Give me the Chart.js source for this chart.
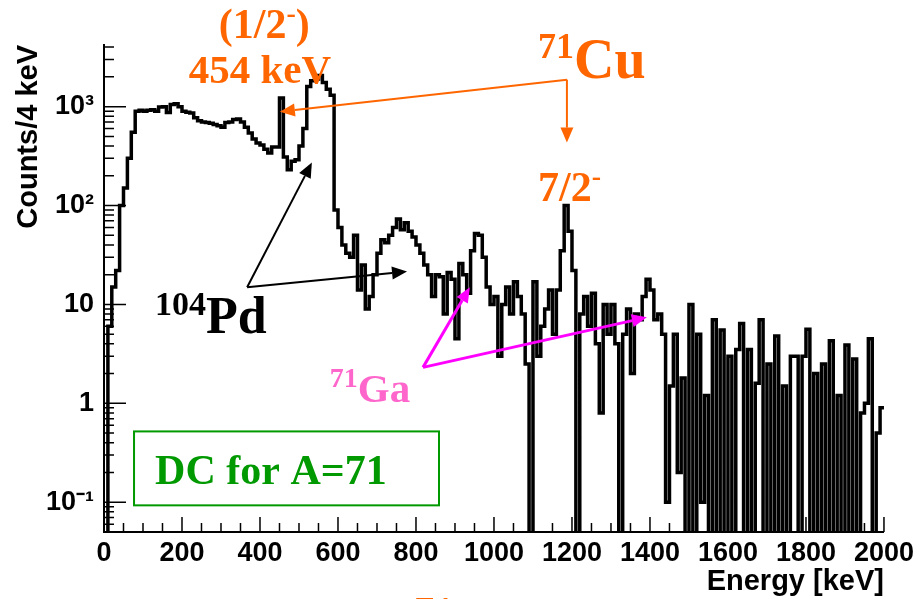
<!DOCTYPE html>
<html>
<head>
<meta charset="utf-8">
<script src="https://cdn.jsdelivr.net/npm/chart.js@4.4.1/dist/chart.umd.min.js"></script>
<style>
  html, body { margin: 0; padding: 0; background: #fff; }
</style>
</head>
<body>
<canvas id="spectrum" width="919" height="599"></canvas>
<script>
// Decay spectrum gated on A=71, 10 keV bins (0 = empty bin)
const BIN_WIDTH = 10;
const counts0to500 = [
  0, 6, 15, 22, 100, 150, 300, 550, 900, 920,
  900, 920, 930, 900, 990, 1000, 870, 1050, 1070, 1000,
  900, 880, 860, 770, 720, 700, 690, 680, 660, 640,
  620, 690, 700, 740, 750, 700, 620, 540, 470, 430,
  410, 370, 340, 390, 390, 1220, 310, 230, 280, 290
];
const counts500to1000 = [
  400, 600, 1600, 1830, 1900, 2060, 1750, 1500, 1300, 90,
  60, 40, 33, 30, 50, 14, 25, 9, 12, 20,
  33, 45, 42, 50, 60, 73, 57, 67, 55, 48,
  40, 33, 25, 20, 12, 20, 19, 8, 21, 18,
  4.5, 26, 20, 13, 35, 52, 50, 30, 15, 10
];
const counts1000to1500 = [
  12, 3, 10, 15, 8, 17, 12, 8, 2.5, 0,
  17, 3, 6, 9, 14, 5, 14, 35, 100, 55,
  22, 0, 8, 12, 6, 13, 4, 0.8, 10, 5,
  10, 4, 0, 5, 9, 2, 8, 7, 12, 18,
  14, 7, 8, 5, 0.1, 1.5, 5, 0.2, 1.8, 0
];
const counts1500to2000 = [
  10, 0, 5, 0.1, 1.2, 0, 7, 0, 5.5, 0,
  3, 0, 3.5, 6.4, 0, 3.5, 0, 1.6, 7, 0,
  2.5, 0, 4.8, 0, 1.5, 0, 3, 3, 0, 3,
  5.6, 0, 2, 0, 2.5, 0, 4.3, 0, 1.2, 0,
  3.9, 0, 2.8, 0, 0.8, 1, 4.5, 0, 0.5, 0.9
];

const xTickMajor = 200;
const yTickValues = [0.1, 1, 10, 100, 1000];
const yTickLabels = ['10\u207B\u00B9', '1', '10', '10\u00B2', '10\u00B3'];

const ORANGE = '#ff6600';
const MAGENTA = '#ff00ff';
const PINK = '#ff66cc';
const GREEN = '#009900';
const SERIF = '"Liberation Serif", "Times New Roman", serif';
const SANS = '"Liberation Sans", Arial, sans-serif';

// empty bins are pushed below the log axis so the line drops to the floor
const EMPTY = 1e-3;

let counts = counts0to500.concat(counts500to1000, counts1000to1500, counts1500to2000);
let histPoints = [];
counts.forEach((c, i) => {
    let v = c > 0 ? c : EMPTY;
    histPoints.push({ x: i * BIN_WIDTH, y: v });
    histPoints.push({ x: (i + 1) * BIN_WIDTH, y: v });
});

// Annotation anchors are given in data space: [keV, counts]
const textLabels = [
    { at: [411, 5000], align: 'center', color: ORANGE, parts: [['(1/2', 42], ['-', 28, 16], [')', 42]] },
    { at: [400, 1750], align: 'center', color: ORANGE, parts: [['454 keV', 41]] },
    { at: [1113, 1960], align: 'left', color: ORANGE, parts: [['71', 36, 20], ['Cu', 56]] },
    { at: [1113, 110], align: 'left', color: ORANGE, parts: [['7/2', 42], ['-', 28, 16]] },
    { at: [131, 5.2], align: 'left', color: '#000', parts: [['104', 34, 18], ['Pd', 52]] },
    { at: [579, 1.02], align: 'left', color: PINK, parts: [['71', 28, 15], ['Ga', 41]] },
    { at: [131, 0.152], align: 'left', color: GREEN, parts: [['DC for A=71', 42]] }
];
const arrows = [
    { from: [1187, 1875], to: [451, 890], color: ORANGE, width: 2 },
    { from: [1187, 1875], to: [1187, 433], color: ORANGE, width: 2 },
    { from: [367, 14.9], to: [533, 272], color: '#000', width: 2 },
    { from: [367, 14.9], to: [777, 21.5], color: '#000', width: 2 },
    { from: [818, 2.31], to: [938, 14.9], color: MAGENTA, width: 3 },
    { from: [818, 2.31], to: [1392, 7.4], color: MAGENTA, width: 3 }
];
const labelBox = { from: [77, 0.52], to: [859, 0.093], color: GREEN };

function isDecade(v) {
    let e = Math.log10(v);
    return Math.abs(e - Math.round(e)) < 1e-6;
}

function drawParts(ctx, item, x, y) {
    let widths = item.parts.map((p) => {
        ctx.font = `bold ${p[1]}px ${SERIF}`;
        return ctx.measureText(p[0]).width;
    });
    let total = widths.reduce((a, b) => a + b, 0);
    let cx = item.align === 'center' ? x - total / 2 : x;
    ctx.fillStyle = item.color;
    ctx.textBaseline = 'alphabetic';
    ctx.textAlign = 'left';
    item.parts.forEach((p, i) => {
        ctx.font = `bold ${p[1]}px ${SERIF}`;
        ctx.fillText(p[0], cx, y - (p[2] || 0));
        cx += widths[i];
    });
}

function drawArrow(ctx, x1, y1, x2, y2, color, width) {
    let a = Math.atan2(y2 - y1, x2 - x1);
    let head = 15, half = 6.5;
    let bx = x2 - head * Math.cos(a);
    let by = y2 - head * Math.sin(a);
    ctx.strokeStyle = color;
    ctx.fillStyle = color;
    ctx.lineWidth = width;
    ctx.beginPath();
    ctx.moveTo(x1, y1);
    ctx.lineTo(bx, by);
    ctx.stroke();
    ctx.beginPath();
    ctx.moveTo(x2, y2);
    ctx.lineTo(bx + half * Math.sin(a), by - half * Math.cos(a));
    ctx.lineTo(bx - half * Math.sin(a), by + half * Math.cos(a));
    ctx.closePath();
    ctx.fill();
}

const insideTicks = {
    id: 'insideTicks',
    afterDatasetsDraw(chart) {
        let { ctx, scales: { x, y }, chartArea } = chart;
        ctx.save();
        ctx.strokeStyle = '#000';
        ctx.lineWidth = 1.5;
        ctx.beginPath();
        x.ticks.forEach((t) => {
            let px = x.getPixelForValue(t.value);
            let len = t.value % xTickMajor === 0 ? 15 : 9;
            ctx.moveTo(px, chartArea.bottom);
            ctx.lineTo(px, chartArea.bottom - len);
        });
        y.ticks.forEach((t) => {
            let m = t.value / Math.pow(10, Math.floor(Math.log10(t.value) + 1e-9));
            if (Math.abs(m - Math.round(m)) > 1e-6) return;
            let py = y.getPixelForValue(t.value);
            let len = isDecade(t.value) ? 22 : 10;
            ctx.moveTo(chartArea.left, py);
            ctx.lineTo(chartArea.left + len, py);
        });
        ctx.stroke();
        ctx.restore();
    }
};

const annotations = {
    id: 'annotations',
    afterDraw(chart) {
        let { ctx, scales: { x, y } } = chart;
        let px = (p) => [x.getPixelForValue(p[0]), y.getPixelForValue(p[1])];
        ctx.save();

        arrows.forEach((a) => {
            let f = px(a.from), t = px(a.to);
            drawArrow(ctx, f[0], f[1], t[0], t[1], a.color, a.width);
        });

        let b0 = px(labelBox.from), b1 = px(labelBox.to);
        ctx.strokeStyle = labelBox.color;
        ctx.lineWidth = 2;
        ctx.strokeRect(b0[0], b0[1], b1[0] - b0[0], b1[1] - b0[1]);

        textLabels.forEach((item) => {
            let p = px(item.at);
            drawParts(ctx, item, p[0], p[1]);
        });

        // clipped orange caption at the very bottom of the slide
        ctx.font = `bold 40px ${SERIF}`;
        ctx.fillStyle = ORANGE;
        ctx.textBaseline = 'top';
        ctx.fillText('71', 414, 594);
        ctx.restore();
    }
};

let ctx = document.getElementById('spectrum').getContext('2d');
let chart = new Chart(ctx, {
    type: 'line',
    data: {
        datasets: [{
            data: histPoints,
            borderColor: '#000',
            borderWidth: 3.5,
            pointRadius: 0,
            tension: 0,
            clip: 0
        }]
    },
    options: {
        responsive: false,
        animation: false,
        layout: { padding: { top: 45, right: 35, left: 0, bottom: 0 } },
        plugins: {
            legend: { display: false },
            tooltip: { enabled: false }
        },
        scales: {
            x: {
                type: 'linear',
                min: 0,
                max: 2000,
                grid: { display: false, drawTicks: false },
                border: { display: true, color: '#000', width: 2 },
                ticks: {
                    stepSize: 50,
                    autoSkip: false,
                    maxRotation: 0,
                    padding: 5,
                    color: '#000',
                    font: { family: SANS, size: 27, weight: 'bold' },
                    callback: (v) => (v % xTickMajor === 0 ? String(v) : '')
                },
                title: {
                    display: true,
                    text: 'Energy [keV]',
                    align: 'end',
                    color: '#000',
                    font: { family: SANS, size: 29, weight: 'bold' },
                    padding: { top: 0, bottom: 0 }
                },
                afterFit: (s) => { s.height = 67; }
            },
            y: {
                type: 'logarithmic',
                min: 0.05,
                max: 4200,
                grid: { display: false, drawTicks: false },
                border: { display: true, color: '#000', width: 2 },
                ticks: {
                    autoSkip: false,
                    padding: 10,
                    color: '#000',
                    font: { family: SANS, size: 27, weight: 'bold' },
                    callback: (v) => {
                        let i = yTickValues.findIndex((t) => Math.abs(t - v) / t < 1e-6);
                        return i >= 0 ? yTickLabels[i] : '';
                    }
                },
                title: {
                    display: true,
                    text: 'Counts/4 keV',
                    align: 'end',
                    color: '#000',
                    font: { family: SANS, size: 29, weight: 'bold' },
                    padding: { top: 12, bottom: 0 }
                },
                afterFit: (s) => { s.width = 104; }
            }
        }
    },
    plugins: [insideTicks, annotations]
});
</script>
</body>
</html>
